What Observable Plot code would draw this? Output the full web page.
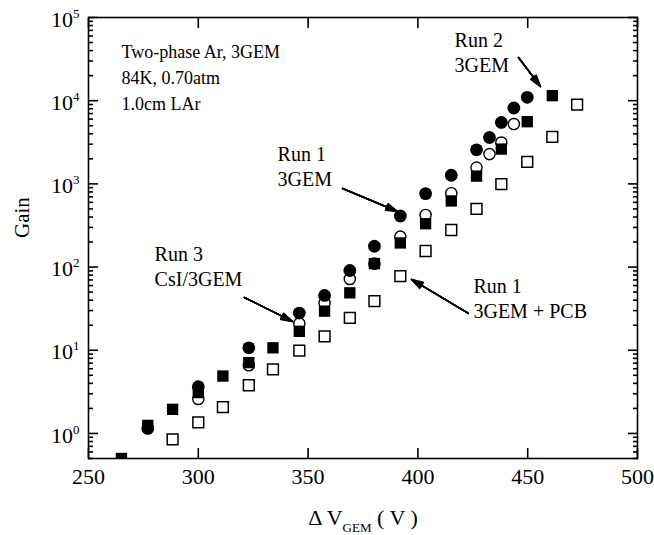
<!DOCTYPE html>
<html><head><meta charset="utf-8">
<script src="https://cdn.jsdelivr.net/npm/d3@7"></script>
<script src="https://cdn.jsdelivr.net/npm/@observablehq/plot@0.6"></script>
<style>
body{margin:0;background:#fff;}
svg{display:block;}
</style></head><body>
<div id="chart"></div>
<script>
// ---- data ----
// Run 1, 3GEM (filled circles)
const run1V = [277, 300, 323, 346, 357.5, 369, 380.2, 392, 403.5, 415.2, 426.7, 432.6, 438, 443.7, 449.8];
const run1G = [1.15, 3.65, 10.7, 28, 45.6, 91, 178, 411, 764, 1270, 2570, 3610, 5480, 8170, 10970];
// Run 3, CsI/3GEM (open circles)
const run3V = [300, 323, 346, 357.5, 369, 380.2, 392, 403.5, 415.2, 426.7, 432.6, 438, 443.7];
const run3G = [2.6, 6.6, 21, 37, 72, 110, 232, 423, 773, 1570, 2280, 3140, 5240];
// Run 2, 3GEM (filled squares)
const run2V = [265, 277, 288.3, 300, 311.2, 323, 334, 346, 357.5, 369, 380.2, 392, 403.5, 415.2, 426.7, 438, 449.8, 461.2];
const run2G = [0.5, 1.25, 1.95, 3.1, 4.9, 7.1, 10.7, 16.9, 29.5, 49, 110, 195, 332, 624, 1240, 2620, 5590, 11500];
// Run 1, 3GEM + PCB (open squares)
const pcbV = [288.3, 300, 311.2, 323, 334, 346, 357.5, 369, 380.2, 392, 403.5, 415.2, 426.7, 438, 449.8, 461.2, 472.5];
const pcbG = [0.85, 1.36, 2.07, 3.8, 5.9, 9.9, 14.7, 24.5, 39, 78, 156, 279, 500, 991, 1840, 3680, 8950];

// ticks
const xTicks = [250, 300, 350, 400, 450, 500];
const yMajor = [1, 10, 100, 1000, 10000, 100000];
const yMinor = [0.5, 0.6, 0.7, 0.8, 0.9].concat(
  [1, 10, 100, 1000, 10000].flatMap(p => [2,3,4,5,6,7,8,9].map(m => m * p)));

// annotations (data coordinates)
const infoText = ["Two-phase Ar, 3GEM\n84K, 0.70atm\n1.0cm LAr"];
const infoV = [265];
const infoG = [54100];
const noteText = ["Run 2\n3GEM", "Run 1\n3GEM", "Run 3\nCsI/3GEM", "Run 1\n3GEM + PCB"];
const noteV = [416.7, 336.1, 280.1, 425.3];
const noteG = [71600, 3100, 193, 79.7];
const arrowV1 = [445.8, 365.7, 321.0, 423.0];
const arrowG1 = [33000, 881, 43.1, 27.7];
const arrowV2 = [455.8, 390.7, 342.9, 397.1];
const arrowG2 = [14800, 466, 22.2, 71];

const idx = a => a.map((_, i) => i);
const serif = "Liberation Serif, Times New Roman, serif";

// several head angles stacked give a solid arrowhead
const headAngles = [34, 26, 18, 10, 3];
const arrowMarks = headAngles.map(a => Plot.arrow(idx(arrowV1), {
  x1: i => arrowV1[i], y1: i => arrowG1[i], x2: i => arrowV2[i], y2: i => arrowG2[i],
  stroke: "black", strokeWidth: 1.5, headLength: 12, headAngle: a
}));

const svg = Plot.plot({
  width: 654, height: 535,
  marginLeft: 88, marginRight: 17, marginTop: 17, marginBottom: 77,
  style: {fontFamily: serif, fontSize: "21px", background: "white", color: "black", overflow: "visible"},
  x: {domain: [250, 500]},
  y: {type: "log", domain: [0.5, 1e5]},
  marks: [
    // inward ticks on all four sides
    Plot.axisX(xTicks, {anchor: "bottom", tickSize: 10, dy: -10, fill: "none", strokeWidth: 1.6}),
    Plot.axisX(xTicks, {anchor: "top", tickSize: 10, dy: 10, fill: "none", strokeWidth: 1.6}),
    Plot.axisY(yMajor, {anchor: "left", tickSize: 10, dx: 10, fill: "none", strokeWidth: 1.6}),
    Plot.axisY(yMinor, {anchor: "left", tickSize: 5, dx: 5, fill: "none", strokeWidth: 1.6}),
    Plot.axisY(yMajor, {anchor: "right", tickSize: 10, dx: -10, fill: "none", strokeWidth: 1.6}),
    Plot.axisY(yMinor, {anchor: "right", tickSize: 5, dx: -5, fill: "none", strokeWidth: 1.6}),
    // tick labels
    Plot.axisX(xTicks, {anchor: "bottom", tickSize: 0, tickPadding: 10, fontSize: 22, label: null}),
    Plot.axisY(yMajor, {anchor: "left", tickSize: 0, tickPadding: 9, fontSize: 22, dy: 2, label: null,
      tickFormat: d => "10^" + Math.round(Math.log10(d))}),
    Plot.frame({stroke: "black", strokeWidth: 1.6}),
    // data
    Plot.dot(idx(pcbV), {x: i => pcbV[i], y: i => pcbG[i], symbol: "square", r: 6.1, fill: "white", stroke: "black", strokeWidth: 1.5, clip: true}),
    Plot.dot(idx(run3V), {x: i => run3V[i], y: i => run3G[i], symbol: "circle", r: 5.6, fill: "white", stroke: "black", strokeWidth: 1.4, clip: true}),
    Plot.dot(idx(run2V), {x: i => run2V[i], y: i => run2G[i], symbol: "square", r: 6.4, fill: "black", stroke: "none", clip: true}),
    Plot.dot(idx(run1V), {x: i => run1V[i], y: i => run1G[i], symbol: "circle", r: 6.4, fill: "black", stroke: "none", clip: true}),
    // annotations
    Plot.text(idx(infoText), {x: i => infoV[i], y: i => infoG[i], text: i => infoText[i], textAnchor: "start", lineAnchor: "top", fontSize: 18, lineHeight: 1.44, fill: "black"}),
    Plot.text(idx(noteText), {x: i => noteV[i], y: i => noteG[i], text: i => noteText[i], textAnchor: "start", lineAnchor: "top", fontSize: 20, lineHeight: 1.25, fill: "black"}),
    ...arrowMarks,
    // axis titles
    Plot.text(["Gain"], {text: d => d, frameAnchor: "left", dx: -66, rotate: -90, fontSize: 21, fill: "black"}),
    Plot.text(["ΔVGEM"], {text: d => d, frameAnchor: "bottom", dy: 66, fontSize: 22, fill: "black"})
  ]
});

// superscripts on y tick labels
d3.select(svg).selectAll('g[aria-label="y-axis tick label"] text').each(function() {
  const t = d3.select(this);
  const s = t.text();
  if (s.includes("^")) {
    const [b, e] = s.split("^");
    t.text(b);
    t.append("tspan").attr("dy", -9).attr("font-size", 13).text(e);
  }
});
// subscript on x-axis title
d3.select(svg).selectAll("text").each(function() {
  const t = d3.select(this);
  if (t.text() === "ΔVGEM") {
    t.text("");
    t.attr("xml:space", "preserve");
    t.append("tspan").text("Δ V");
    t.append("tspan").attr("dy", 7).attr("font-size", 13).text("GEM");
    t.append("tspan").attr("dy", -7).text(" ( V )");
  }
});

document.getElementById("chart").appendChild(svg);
</script>
</body></html>
